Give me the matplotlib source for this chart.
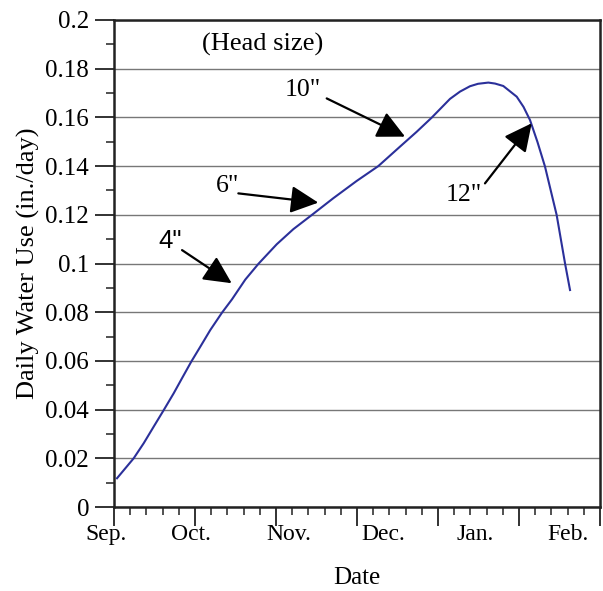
import matplotlib
matplotlib.use("Agg")
import matplotlib.pyplot as plt
from matplotlib.transforms import blended_transform_factory

# Time in months since Sep. 1 ; daily water use (in./day)
months = [0.037, 0.140, 0.243, 0.367, 0.490, 0.614, 0.737, 0.840, 0.954, 1.065,
          1.189, 1.333, 1.457, 1.621, 1.784, 2.009, 2.214, 2.441, 2.707, 2.996,
          3.263, 3.531, 3.737, 3.922, 4.148, 4.272, 4.395, 4.494, 4.621, 4.704,
          4.806, 4.972, 5.056, 5.136, 5.228, 5.321, 5.465, 5.568, 5.630]
water_use = [0.0118, 0.0159, 0.0200, 0.0262, 0.0330, 0.0398, 0.0467, 0.0529, 0.0597, 0.0658,
             0.0727, 0.0798, 0.0853, 0.0934, 0.0999, 0.1079, 0.1141, 0.1199, 0.1268, 0.1339,
             0.1400, 0.1480, 0.1541, 0.1599, 0.1676, 0.1706, 0.1728, 0.1738, 0.1743, 0.1739,
             0.1729, 0.1685, 0.1643, 0.1589, 0.1499, 0.1398, 0.1199, 0.1001, 0.0891]

month_labels = ["Sep.", "Oct.", "Nov.", "Dec.", "Jan.", "Feb."]
month_label_pos = [-0.1, 0.95, 2.16, 3.32, 4.46, 5.6]

head_labels = ['4"', '6"', '10"', '12"']
head_text_xy = [(0.691, 0.1092), (1.407, 0.1318), (2.327, 0.1713), (4.321, 0.1281)]
head_arrow_start = [(0.84, 0.1055), (1.535, 0.1288), (2.626, 0.1678), (4.580, 0.1329)]
head_arrow_tip = [(1.453, 0.0919), (2.522, 0.1250), (3.593, 0.1521), (5.157, 0.1576)]
head_fonts = ["Liberation Sans", "Liberation Serif", "Liberation Serif", "Liberation Serif"]

plt.rcParams['font.family'] = ['Liberation Serif', 'DejaVu Serif']

fig = plt.figure(figsize=(6.03, 5.91), dpi=100)
ax = fig.add_axes([114/603, 1-507/591, 486/603, 487/591])

ax.set_xlim(0, 6)
ax.set_ylim(0, 0.2)

ax.set_yticks([0, 0.02, 0.04, 0.06, 0.08, 0.1, 0.12, 0.14, 0.16, 0.18, 0.2])
ax.set_yticklabels(["0", "0.02", "0.04", "0.06", "0.08", "0.1", "0.12", "0.14", "0.16", "0.18", "0.2"])
ax.set_yticks([0.01 + 0.02*i for i in range(10)], minor=True)
ax.set_xticks(range(7))
ax.set_xticklabels([])
ax.set_xticks([i*0.2 for i in range(31) if i % 5 != 0], minor=True)

ax.tick_params(axis='both', which='major', direction='out', length=14, width=1.3,
               labelsize=18, pad=4, color='#222222')
ax.tick_params(axis='both', which='minor', direction='out', length=6, width=1.1, color='#222222')

ax.yaxis.grid(True, which='major', color='#777777', linewidth=1.0)
ax.set_axisbelow(True)
for sp in ax.spines.values():
    sp.set_linewidth(1.8)
    sp.set_color('#222222')

ax.plot(months, water_use, color='#2b309a', linewidth=1.5, zorder=3,
        solid_joinstyle='round', antialiased=True)

trans = blended_transform_factory(ax.transData, ax.transAxes)
for lab, pos in zip(month_labels, month_label_pos):
    ax.text(pos, -0.034, lab, transform=trans, ha='center', va='top', fontsize=17,
            clip_on=False)

ax.text(1.84, 0.1901, "(Head size)", ha='center', va='center', fontsize=19)

for lab, txy, st, tip, fam in zip(head_labels, head_text_xy, head_arrow_start,
                                  head_arrow_tip, head_fonts):
    ax.text(txy[0], txy[1], lab, ha='center', va='center', fontsize=18.5, family=fam)
    ax.annotate('', xy=tip, xytext=st,
                arrowprops=dict(arrowstyle='-|>,head_length=0.85,head_width=0.42',
                                mutation_scale=20, color='black', linewidth=1.6,
                                shrinkA=0, shrinkB=0), zorder=4)

fig.text(357/603, 1-578/591, "Date", ha='center', va='center', fontsize=18)
fig.text(28/603, 1-263/591, "Daily Water Use (in./day)", ha='center', va='center',
         rotation=90, fontsize=19)

fig.savefig("out.png", dpi=100, facecolor='white')
